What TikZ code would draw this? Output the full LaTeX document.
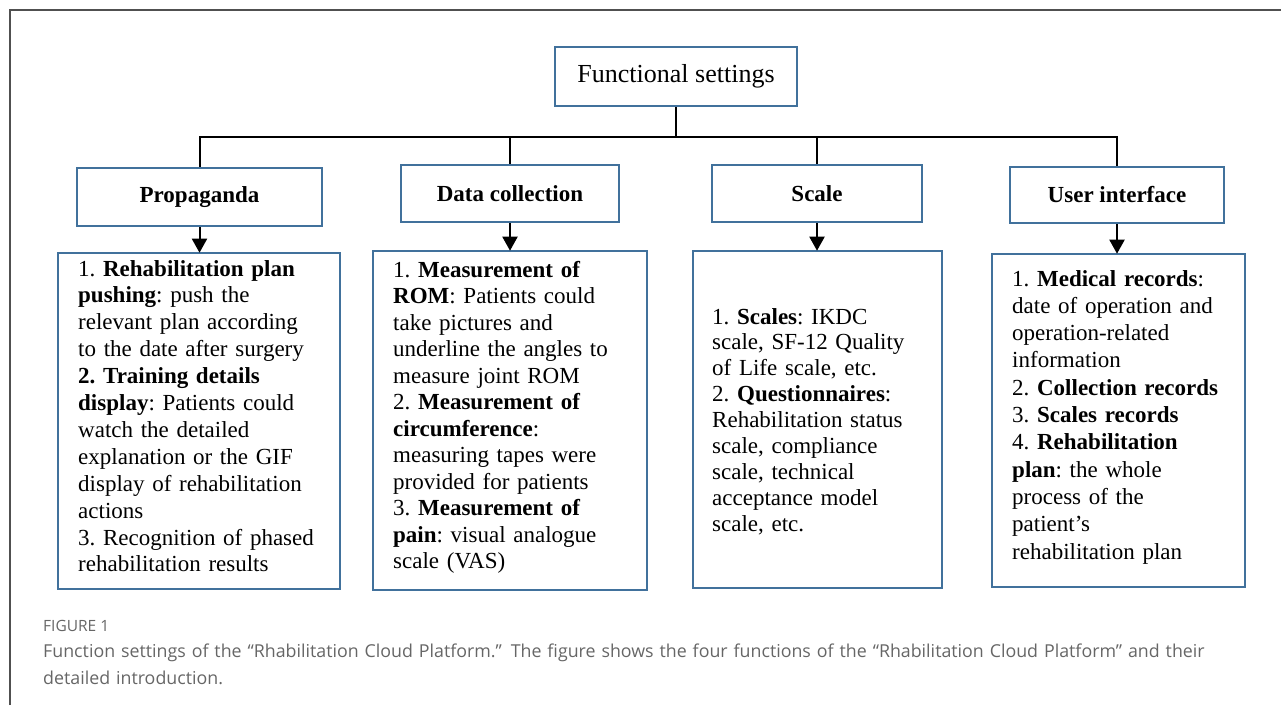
\documentclass[tikz,border=0pt]{standalone}
\usepackage{fontspec}
\setmainfont{Liberation Serif}
\newfontfamily\capfont{Open Sans}
\usetikzlibrary{arrows.meta}
\definecolor{boxblue}{RGB}{65,113,156}
\definecolor{framegray}{RGB}{80,80,80}
\definecolor{capgray}{RGB}{102,102,102}
\tikzset{
  hbox/.style={draw=boxblue, line width=2.6pt, fill=white, inner sep=0pt, font=\fontsize{23}{26}\selectfont\bfseries},
  dbox/.style={draw=boxblue, line width=2.6pt, fill=white, inner sep=0pt},
  body/.style 2 args={anchor=base west, inner sep=0pt, align=left, text width=#1, font=\fontsize{23}{#2}\selectfont\frenchspacing},
  conn/.style={line width=2pt, black},
  arr/.style={line width=2pt, black, -{Triangle[width=15pt,length=14pt]}, shorten >=-1pt},
}
\begin{document}
\begin{tikzpicture}[x=1pt,y=-1pt]
\useasboundingbox (0,0) rectangle (1281,705);
% partial frame
\coordinate (fa) at (10,705);
\coordinate (fb) at (10,10);
\coordinate (fc) at (1281,10);
\draw[framegray, line width=1.5pt] (fa) -- (fb) -- (fc);

% top node
\node[dbox, minimum width=242pt, minimum height=59pt, font=\fontsize{26}{30}\selectfont] (top) at (676,76.5) {Functional settings};

% headers
\node[hbox, minimum width=245pt, minimum height=58pt] (h1) at (199.5,197) {Propaganda};
\node[hbox, minimum width=218pt, minimum height=57pt] (h2) at (510,193.5) {Data collection};
\node[hbox, minimum width=210pt, minimum height=57pt] (h3) at (817,193.5) {Scale};
\node[hbox, minimum width=214pt, minimum height=56pt] (h4) at (1117,195) {User interface};

% detail boxes
\node[dbox, minimum width=282pt, minimum height=336pt] (d1) at (199,421) {};
\node[dbox, minimum width=274pt, minimum height=339pt] (d2) at (510,420.5) {};
\node[dbox, minimum width=249pt, minimum height=337pt] (d3) at (817.5,419.5) {};
\node[dbox, minimum width=253pt, minimum height=333pt] (d4) at (1118.5,420.5) {};

% tree connectors
\coordinate (bus) at (676,137);
\draw[conn] (top.south) -- (bus);
\draw[conn] (h1.north) |- (bus) -| (h4.north);
\draw[conn] (h2.north) -- (h2.north |- bus);
\draw[conn] (h3.north) -- (h3.north |- bus);

% arrows
\draw[arr] (h1.south) -- (h1.south |- d1.north);
\draw[arr] (h2.south) -- (h2.south |- d2.north);
\draw[arr] (h3.south) -- (h3.south |- d3.north);
\draw[arr] (h4.south) -- (h4.south |- d4.north);

% texts
\node[body={262pt}{26.9}] (t1) at (78,276) {1. \textbf{Rehabilitation plan}\\
\textbf{pushing}: push the\\
relevant plan according\\
to the date after surgery\\
\textbf{2. Training details}\\
\textbf{display}: Patients could\\
watch the detailed\\
explanation or the GIF\\
display of rehabilitation\\
actions\\
3. Recognition of phased\\
rehabilitation results};

\node[body={252pt}{26.5}] (t2) at (393,277) {1. \textbf{Measurement of}\\
\textbf{ROM}: Patients could\\
take pictures and\\
underline the angles to\\
measure joint ROM\\
2. \textbf{Measurement of}\\
\textbf{circumference}:\\
measuring tapes were\\
provided for patients\\
3. \textbf{Measurement of}\\
\textbf{pain}: visual analogue\\
scale (VAS)};

\node[body={228pt}{25.9}] (t3) at (712,324) {1. \textbf{Scales}: IKDC\\
scale, SF-12 Quality\\
of Life scale, etc.\\
2. \textbf{Questionnaires}:\\
Rehabilitation status\\
scale, compliance\\
scale, technical\\
acceptance model\\
scale, etc.};

\node[body={232pt}{27.3}] (t4) at (1012,286) {1. \textbf{Medical records}:\\
date of operation and\\
operation-related\\
information\\
2. \textbf{Collection records}\\
3. \textbf{Scales records}\\
4. \textbf{Rehabilitation}\\
\textbf{plan}: the whole\\
process of the\\
patient’s\\
rehabilitation plan};

% caption
\node[anchor=base west, inner sep=0pt, text=capgray, font=\capfont\fontsize{15.5}{18}\selectfont] (fig) at (43,631) {FIGURE 1};
\node[anchor=base west, inner sep=0pt, text=capgray, align=left, text width=1220pt, font=\capfont\fontsize{17.8}{27}\selectfont] (cap) at (43,657) {Function settings of the “Rhabilitation Cloud Platform.” The figure shows the four functions of the “Rhabilitation Cloud Platform” and their\\detailed introduction.};
\end{tikzpicture}
\end{document}
